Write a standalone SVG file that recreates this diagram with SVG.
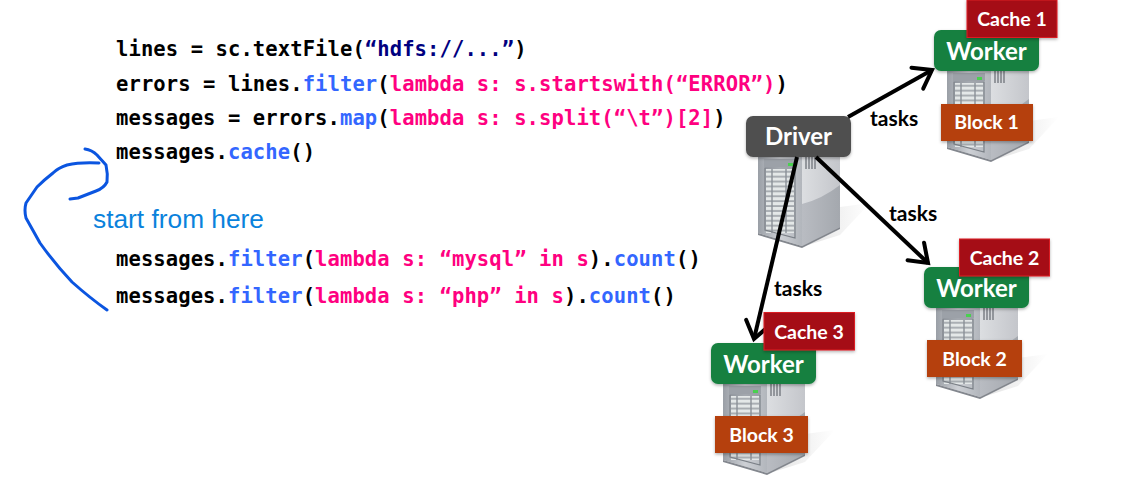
<svg xmlns="http://www.w3.org/2000/svg" xmlns:xlink="http://www.w3.org/1999/xlink" width="1124" height="491" viewBox="0 0 1124 491">
<style>
.code{font-family:"DejaVu Sans Mono","Liberation Mono",monospace;font-weight:700;font-size:20.5px;letter-spacing:.1px;fill:#000;white-space:pre}
.m{fill:#3366ff}.p{fill:#ff0080}.n{fill:#000080}
.lbl{font-family:Lato,"Noto Sans",sans-serif;font-weight:700;fill:#fff;text-anchor:middle}
.big{font-size:24px}.small{font-size:19.5px}
.tasks{font-family:Lato,"Noto Sans",sans-serif;font-weight:700;font-size:21px;fill:#000}
.worker{fill:#15803f}.driver{fill:#505050}.cache{fill:#a50d15;stroke:#dc1c24;stroke-width:1}.block{fill:#b53f0e}
.link{fill:none;stroke:#000;stroke-width:4;marker-end:url(#head)}
.ink{fill:none;stroke:#0b55e0;stroke-width:3;stroke-linecap:round;stroke-linejoin:round}
</style>
<defs>
<marker id="head" viewBox="-6 -5 7 10" refX="0" refY="0" markerWidth="7" markerHeight="10" orient="auto" markerUnits="strokeWidth"><path d="M-4.200 -3L0 0L-4.200 3" fill="none" stroke="#000" stroke-width="1" stroke-linecap="round"/></marker>
<filter id="sh" x="-10%" y="-10%" width="120%" height="125%"><feDropShadow dx="0" dy="1.5" stdDeviation="1.5" flood-color="#000" flood-opacity=".3"/></filter>
<linearGradient id="front" x1="0" x2="1" y1="0" y2="0"><stop offset="0" stop-color="#9a9fa6"/><stop offset=".5" stop-color="#cdd0d5"/><stop offset="1" stop-color="#b2b6bc"/></linearGradient>
<linearGradient id="side" x1="0" x2="1" y1="0" y2="0"><stop offset="0" stop-color="#dcdee1"/><stop offset="1" stop-color="#c4c6cb"/></linearGradient>
<linearGradient id="low" x1="0" x2="1" y1="0" y2="0"><stop offset="0" stop-color="#b9bcc2"/><stop offset="1" stop-color="#a4a8ae"/></linearGradient>
<linearGradient id="floor" x1="0" x2="1" y1="0" y2="0"><stop offset="0" stop-color="#d8d8d8"/><stop offset="1" stop-color="#fff"/></linearGradient>
<pattern id="bays" width="14" height="4.900" patternUnits="userSpaceOnUse"><rect width="14" height="4.900" fill="#8a9097"/><rect x=".7" y=".7" width="12.600" height="3.600" fill="#e4e8e8"/></pattern>
<g id="server">
<path d="M82 50L112 46L82 78L50 88Z" fill="url(#floor)" opacity=".7"/>
<path d="M0 0H44V89L0 76Z" fill="url(#front)"/>
<path d="M44 0H82V70L44 89Z" fill="url(#side)"/>
<path d="M44 47Q64 42 82 28V70L44 89Z" fill="url(#low)"/>
<path d="M0 76L44 89L82 70V72L44 91L0 78Z" fill="#83878e"/>
<rect x="6" y="2" width="32" height="8" fill="#9ca1a8"/>
<rect x="30" y="6" width="5" height="3" fill="#49d04f"/>
<rect x="8" y="12" width="14" height="64" fill="url(#bays)"/>
<rect x="22" y="12" width="14" height="64" fill="url(#bays)"/>
<path d="M7 11H37V81L7 73Z" fill="none" stroke="#7b8087" stroke-width="1.200"/>
<path d="M48 0V12M51 0V12M54 0V12M57 0V12" stroke="#7c8087" stroke-width="1.500"/>
</g>
</defs>
<rect width="1124" height="491" fill="#fff"/>

<g id="code">
<text class="code" x="116" y="56">lines = sc.textFile(<tspan class="n">“hdfs://...”</tspan>)</text>
<text class="code" x="116" y="91">errors = lines.<tspan class="m">filter</tspan>(<tspan class="p">lambda s: s.startswith(“ERROR”)</tspan>)</text>
<text class="code" x="116" y="125">messages = errors.<tspan class="m">map</tspan>(<tspan class="p">lambda s: s.split(“\t”)[2]</tspan>)</text>
<text class="code" x="116" y="159">messages.<tspan class="m">cache</tspan>()</text>
<text class="code" x="116" y="266">messages.<tspan class="m">filter</tspan>(<tspan class="p">lambda s: “mysql” in s</tspan>).<tspan class="m">count</tspan>()</text>
<text class="code" x="116" y="303">messages.<tspan class="m">filter</tspan>(<tspan class="p">lambda s: “php” in s</tspan>).<tspan class="m">count</tspan>()</text>
</g>

<g id="annotation">
<path class="ink" d="M85 149Q92 150 97 155L106 165Q108 174 107 182Q104 188 96 191L78 198L70 199"/>
<path class="ink" d="M99 163Q80 162 67 165Q58 168 53 173Q44 180 37 187L26 203Q24 210 26 218L40 243Q55 264 72 282Q90 298 107 310"/>
<text x="93" y="228" font-family="Liberation Sans, Arial, sans-serif" font-size="26.300" fill="#0a82dc">start from here</text>
</g>

<g id="driver">
<use href="#server" x="758" y="157"/>
<rect class="driver" x="746" y="116" width="105" height="41" rx="7" filter="url(#sh)"/>
<text class="lbl big" x="798.500" y="145">Driver</text>
</g>

<g id="connectors">
<path class="link" d="M848 117L932 70"/>
<path class="link" d="M816 157L928 263"/>
<path class="link" d="M797 157L754 339"/>
<text class="tasks" x="870" y="126">tasks</text>
<text class="tasks" x="889" y="221">tasks</text>
<text class="tasks" x="774" y="296">tasks</text>
</g>

<g id="worker-1">
<use href="#server" x="947" y="71"/>
<rect class="worker" x="934" y="30" width="105" height="41" rx="7" filter="url(#sh)"/>
<text class="lbl big" x="986.500" y="60">Worker</text>
</g>
<g id="block-1"><rect class="block" x="941" y="104" width="92" height="37" filter="url(#sh)"/><text class="lbl small" x="986.500" y="129">Block 1</text></g>
<g id="cache-1"><rect class="cache" x="967" y="0" width="90" height="37.500" filter="url(#sh)"/><text class="lbl small" x="1012" y="26">Cache 1</text></g>

<g id="worker-2">
<use href="#server" x="936" y="308"/>
<rect class="worker" x="924" y="267" width="105" height="41" rx="7" filter="url(#sh)"/>
<text class="lbl big" x="976.500" y="297">Worker</text>
</g>
<g id="block-2"><rect class="block" x="927" y="340" width="95" height="37" filter="url(#sh)"/><text class="lbl small" x="974.500" y="366">Block 2</text></g>
<g id="cache-2"><rect class="cache" x="959.500" y="239" width="90" height="37" filter="url(#sh)"/><text class="lbl small" x="1004.500" y="265">Cache 2</text></g>

<g id="worker-3">
<use href="#server" x="723" y="384"/>
<rect class="worker" x="711" y="343" width="105" height="41" rx="7" filter="url(#sh)"/>
<text class="lbl big" x="763.500" y="373">Worker</text>
</g>
<g id="block-3"><rect class="block" x="715" y="416" width="93" height="37" filter="url(#sh)"/><text class="lbl small" x="761.500" y="442">Block 3</text></g>
<g id="cache-3"><rect class="cache" x="764" y="312.500" width="90.500" height="37.500" filter="url(#sh)"/><text class="lbl small" x="809" y="339">Cache 3</text></g>
</svg>
